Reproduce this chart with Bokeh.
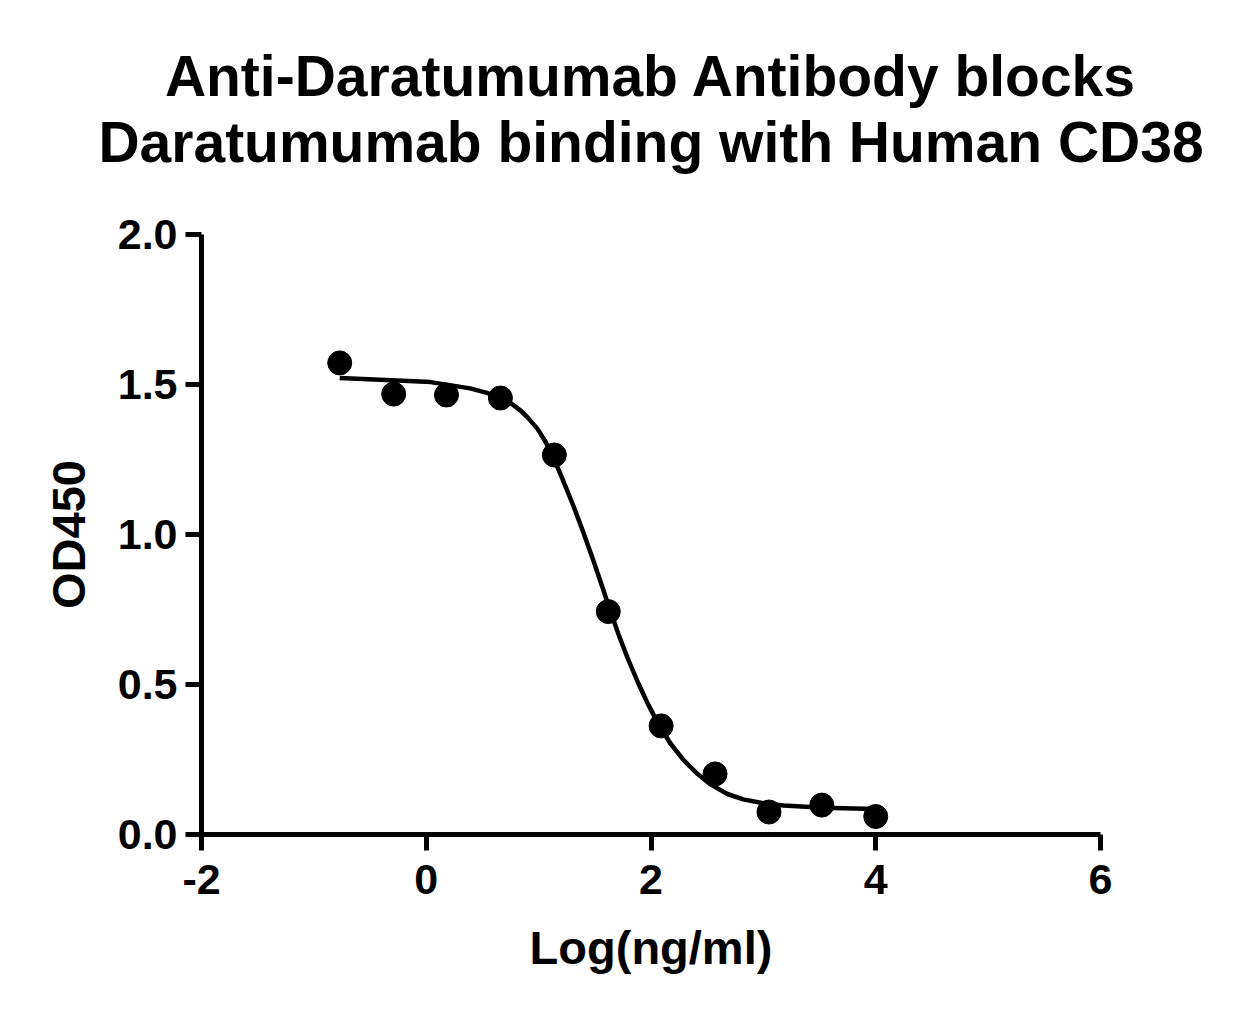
from bokeh.plotting import figure
from bokeh.models import Range1d, FixedTicker, Title, NumeralTickFormatter
from bokeh.embed import file_html
from bokeh.resources import INLINE

# Measured points: log concentration (ng/ml) vs OD450
log_conc = [-0.77, -0.29, 0.18, 0.66, 1.14, 1.62, 2.09, 2.57, 3.05, 3.52, 4.00]
od450 = [1.572, 1.468, 1.465, 1.455, 1.265, 0.743, 0.362, 0.202, 0.075, 0.098, 0.060]

# Fitted curve
curve_x = [-0.77, -0.41, 0.04, 0.39, 0.54, 0.66, 0.77, 0.84, 0.91, 0.99, 1.06,
           1.13, 1.22, 1.31, 1.40, 1.49, 1.57, 1.62, 1.71, 1.79, 1.88, 1.97,
           2.06, 2.17, 2.29, 2.41, 2.53, 2.68, 2.82, 3.00, 3.18, 3.53, 4.00]
curve_y = [1.522, 1.516, 1.508, 1.487, 1.472, 1.455, 1.433, 1.413, 1.387, 1.352, 1.310,
           1.258, 1.178, 1.095, 1.005, 0.910, 0.822, 0.765, 0.668, 0.590, 0.510, 0.437,
           0.372, 0.305, 0.248, 0.203, 0.167, 0.135, 0.117, 0.104, 0.097, 0.089, 0.085]

x_ticks = [-2, 0, 2, 4, 6]
y_ticks = [0.0, 0.5, 1.0, 1.5, 2.0]

title_lines = ["Anti-Daratumumab Antibody blocks",
               "Daratumumab binding with Human CD38"]
x_label = "Log(ng/ml)"
y_label = "OD450"

FONT = "Liberation Sans"

p = figure(width=1238, height=1004,
           x_range=Range1d(-2, 6), y_range=Range1d(0, 2),
           output_backend="svg", toolbar_location=None,
           min_border_left=201, min_border_right=138,
           min_border_top=234, min_border_bottom=170)

p.outline_line_color = None
p.xgrid.visible = False
p.ygrid.visible = False
p.background_fill_color = "white"
p.border_fill_color = "white"

for ax in (p.xaxis[0], p.yaxis[0]):
    ax.axis_line_width = 5
    ax.axis_line_color = "black"
    ax.major_tick_line_width = 5
    ax.major_tick_line_color = "black"
    ax.major_tick_out = 16
    ax.major_tick_in = 0
    ax.minor_tick_line_color = None
    ax.major_label_text_font = FONT
    ax.major_label_text_font_style = "bold"
    ax.major_label_text_font_size = "43px"
    ax.major_label_text_color = "black"
    ax.axis_label_text_font = FONT
    ax.axis_label_text_font_style = "bold"
    ax.axis_label_text_font_size = "47px"
    ax.axis_label_text_color = "black"

p.xaxis.ticker = FixedTicker(ticks=x_ticks)
p.yaxis.ticker = FixedTicker(ticks=y_ticks)
p.xaxis.formatter = NumeralTickFormatter(format="0")
p.yaxis.formatter = NumeralTickFormatter(format="0.0")
p.xaxis.axis_label = x_label
p.yaxis.axis_label = y_label
p.xaxis.major_label_standoff = 14
p.yaxis.major_label_standoff = 8
p.xaxis.axis_label_standoff = 24
p.yaxis.axis_label_standoff = 20

p.line(curve_x, curve_y, line_width=4.5, line_color="black")
p.scatter(log_conc, od450, size=24, fill_color="black", line_color="black")

# Title block: figure title is the top line; a thin spacer keeps the gap to the plot
p.title.text = title_lines[0]
p.title.align = "center"
p.title.text_font = FONT
p.title.text_font_style = "bold"
p.title.text_font_size = "57px"
p.title.text_color = "black"
p.title.standoff = 0

spacer = Title(text=" ", text_font_size="10px", standoff=48)
p.add_layout(spacer, "above")

t2 = Title(text=title_lines[1], align="center", text_font=FONT,
           text_font_style="bold", text_font_size="57px", text_color="black",
           standoff=0)
p.add_layout(t2, "above")

open("out.html", "w").write(file_html(p, INLINE))
